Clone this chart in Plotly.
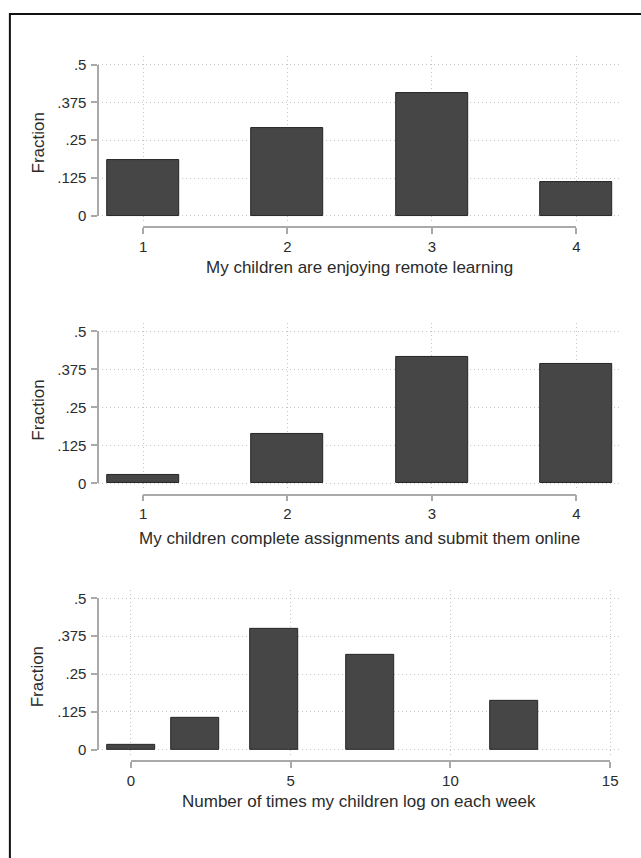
import plotly.graph_objects as go

# ---------------- data ----------------
p1_x = [1, 2, 3, 4]
p1_y = [0.185, 0.289, 0.407, 0.113]
p1_width = 0.5
p1_ticks = [1, 2, 3, 4]
p1_ticktext = ["1", "2", "3", "4"]
p1_title = "My children are enjoying remote learning"

p2_x = [1, 2, 3, 4]
p2_y = [0.027, 0.162, 0.415, 0.392]
p2_width = 0.5
p2_ticks = [1, 2, 3, 4]
p2_ticktext = ["1", "2", "3", "4"]
p2_title = "My children complete assignments and submit them online"

p3_x = [0, 2, 4.5, 7.5, 12]
p3_y = [0.015, 0.105, 0.399, 0.313, 0.160]
p3_width = 1.5
p3_ticks = [0, 5, 10, 15]
p3_ticktext = ["0", "5", "10", "15"]
p3_title = "Number of times my children log on each week"

y_ticks = [0, 0.125, 0.25, 0.375, 0.5]
y_ticktext = ["0", ".125", ".25", ".375", ".5"]
y_title = "Fraction"

# ---------------- layout geometry (pixels) ----------------
W, H = 641, 858
PLOT_L, PLOT_R = 96, 628
AXIS_X = 96

def fx(px):
    return px / W

def fy(py):
    return (H - py) / H

FONT = "Liberation Sans, Arial, sans-serif"
TXT = "#2b2b2b"
AXC = "#a9a9a9"
GRID = "#c4c4c4"
GRID_DASH = "1px,3px"
BAR = "#464646"
BAR_LINE = "#262626"

panels = [
    dict(x=p1_x, y=p1_y, w=p1_width, ticks=p1_ticks, tt=p1_ticktext, title=p1_title,
         t0px=141.7, t1px=583.3, y0px=211.0, y5px=56.7, xaxpx=222.7, titlepx=264),
    dict(x=p2_x, y=p2_y, w=p2_width, ticks=p2_ticks, tt=p2_ticktext, title=p2_title,
         t0px=141.7, t1px=583.3, y0px=484.0, y5px=329.0, xaxpx=495.5, titlepx=540),
    dict(x=p3_x, y=p3_y, w=p3_width, ticks=p3_ticks, tt=p3_ticktext, title=p3_title,
         t0px=129.3, t1px=617.7, y0px=755.7, y5px=601.3, xaxpx=767.7, titlepx=809),
]

fig = go.Figure()
layout = dict(
    width=W, height=H,
    margin=dict(l=0, r=0, t=0, b=0),
    paper_bgcolor="white",
    plot_bgcolor="rgba(0,0,0,0)",
    showlegend=False,
    font=dict(family=FONT, color=TXT, size=15),
    bargap=0,
)
annotations = []

for i, p in enumerate(panels):
    mx, sx = 2 * i + 1, 2 * i + 2
    mxn = "x" if mx == 1 else f"x{mx}"
    myn = "y" if mx == 1 else f"y{mx}"
    sxn, syn = f"x{sx}", f"y{sx}"

    t0, t1 = p["ticks"][0], p["ticks"][-1]
    xscale = (p["t1px"] - p["t0px"]) / (t1 - t0)
    xr = [t0 - (p["t0px"] - PLOT_L) / xscale, t1 + (PLOT_R - p["t1px"]) / xscale]

    yscale = (p["y0px"] - p["y5px"]) / (y_ticks[-1] - y_ticks[0])
    top_px = p["y5px"] - 8.7
    bot_px = p["y0px"] + 5.7
    yr = [-(bot_px - p["y0px"]) / yscale, y_ticks[-1] + (p["y5px"] - top_px) / yscale]

    fig.add_trace(go.Bar(
        x=p["x"], y=p["y"], width=p["w"],
        marker=dict(color=BAR, line=dict(color=BAR_LINE, width=1)),
        xaxis=mxn, yaxis=myn, hoverinfo="x+y",
    ))
    fig.add_trace(go.Scatter(x=[], y=[], xaxis=sxn, yaxis=syn, hoverinfo="skip"))

    layout[f"xaxis{'' if mx == 1 else mx}"] = dict(
        domain=[fx(PLOT_L), fx(PLOT_R)], range=xr, anchor=myn,
        tickvals=p["ticks"], showticklabels=False, ticks="",
        showgrid=True, gridcolor=GRID, griddash=GRID_DASH, gridwidth=1,
        showline=False, zeroline=False, fixedrange=True,
    )
    layout[f"yaxis{'' if mx == 1 else mx}"] = dict(
        domain=[fy(bot_px), fy(top_px)], range=yr, anchor=mxn,
        tickvals=y_ticks, showticklabels=False, ticks="",
        showgrid=True, gridcolor=GRID, griddash=GRID_DASH, gridwidth=1,
        showline=False, zeroline=False, fixedrange=True,
    )
    layout[f"xaxis{sx}"] = dict(
        domain=[fx(p["t0px"]), fx(p["t1px"])], range=[t0, t1],
        anchor="free", position=fy(p["xaxpx"]), side="bottom",
        tickvals=p["ticks"], ticktext=p["tt"], ticks="outside", ticklen=6,
        tickcolor=AXC, tickwidth=1.5, showline=True, linecolor=AXC, linewidth=1.5,
        showgrid=False, zeroline=False, tickfont=dict(size=15, color=TXT),
        fixedrange=True,
    )
    layout[f"yaxis{sx}"] = dict(
        domain=[fy(p["y0px"]), fy(p["y5px"])], range=[y_ticks[0], y_ticks[-1]],
        anchor="free", position=fx(AXIS_X), side="left",
        tickvals=y_ticks, ticktext=y_ticktext, ticks="outside", ticklen=6,
        ticklabelstandoff=2,
        tickcolor=AXC, tickwidth=1.5, showline=True, linecolor=AXC, linewidth=1.5,
        showgrid=False, zeroline=False, tickfont=dict(size=15, color=TXT),
        fixedrange=True,
    )

    annotations.append(dict(
        text=p["title"], xref="paper", yref="paper",
        x=fx((PLOT_L + PLOT_R) / 2), y=fy(p["titlepx"]),
        xanchor="center", yanchor="middle", showarrow=False,
        font=dict(size=17, color=TXT, family=FONT),
    ))
    annotations.append(dict(
        text=y_title, xref="paper", yref="paper",
        x=fx(35), y=fy((p["y0px"] + p["y5px"]) / 2 + 3),
        xanchor="center", yanchor="middle", showarrow=False, textangle=-90,
        font=dict(size=17, color=TXT, family=FONT),
    ))

layout["annotations"] = annotations
layout["shapes"] = [dict(
    type="rect", xref="paper", yref="paper",
    x0=fx(6), x1=1.05, y0=-0.05, y1=fy(5),
    line=dict(color="#111111", width=2), fillcolor="rgba(0,0,0,0)",
)]

fig.update_layout(**layout)
fig.write_html(
    "out.html",
    config={"displayModeBar": False},
    post_script="document.body.style.margin='0';document.body.style.overflow='hidden';",
)
